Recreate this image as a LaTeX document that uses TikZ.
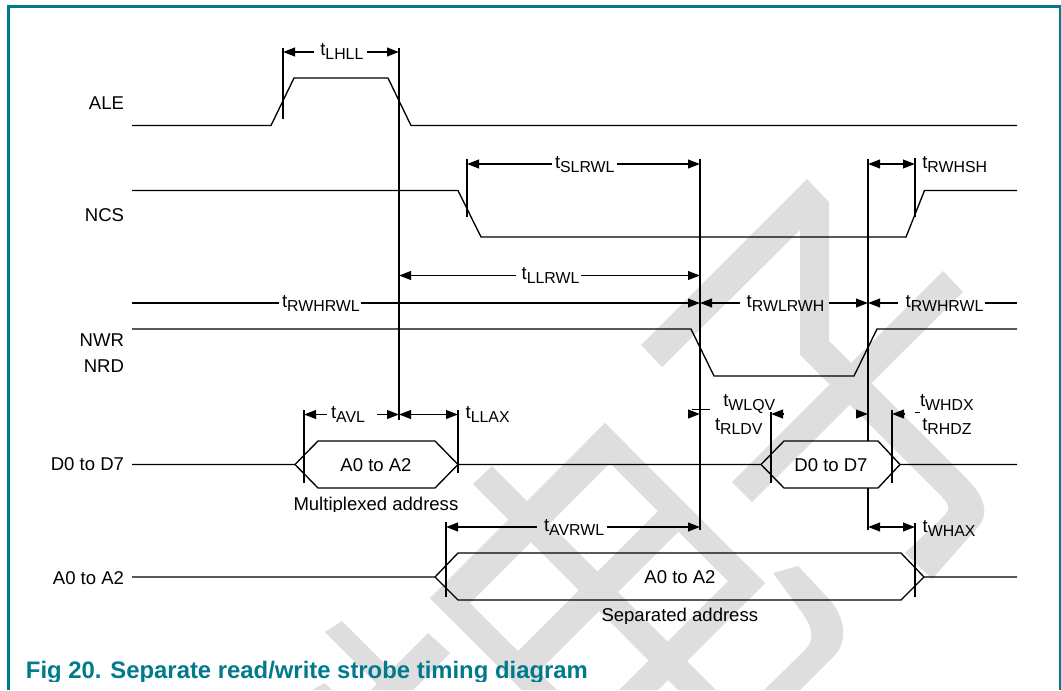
\documentclass[tikz,border=0pt]{standalone}
\usepackage{fontspec}
\setmainfont{Liberation Sans}
\usetikzlibrary{arrows.meta}
\definecolor{nxpteal}{HTML}{007A8C}
\definecolor{wmgray}{HTML}{DEDEDE}
\newcommand{\tsub}[1]{t\raisebox{-3pt}{\fontsize{11.9}{12}\selectfont #1}}
\tikzset{
  wm/.style={fill=wmgray,draw=none},
  sig/.style={line width=1pt,black,line join=miter},
  vline/.style={line width=1.3pt,black},
  dimline/.style={line width=1.45pt,black},
  thinmark/.style={line width=0.5pt,black},
  tipl/.style={{Triangle[length=9pt,width=6.5pt]}-},
  tipr/.style={-{Triangle[length=9pt,width=6.5pt]}},
  tipb/.style={{Triangle[length=9pt,width=6.5pt]}-{Triangle[length=9pt,width=6.5pt]}},
  lab/.style={inner sep=0pt,outer sep=0pt,anchor=base west,font=\fontsize{13.9}{15}\selectfont},
  siglab/.style={inner sep=0pt,outer sep=0pt,anchor=base east,font=\fontsize{13.9}{15}\selectfont},
  midlab/.style={inner sep=0pt,outer sep=0pt,anchor=base,font=\fontsize{13.9}{15}\selectfont},
  figcap/.style={inner sep=0pt,outer sep=0pt,anchor=base west,text=nxpteal,font=\fontsize{17.9}{20}\selectfont\bfseries}
}
\begin{document}
\begin{tikzpicture}[x=0.75pt,y=-0.75pt]
\useasboundingbox (0,0) rectangle (1061,690);
\fill[white] (0,0) rectangle (1061,690);
% watermark
\begin{scope}
\clip (0,0) rectangle (1061,690);
\fill[wm] (807,179) -- (829,202) -- (829,341) -- (967,479) .. controls (985,497) and (990,515) .. (977,528) -- (932,579) -- (905,553) -- (943,517) .. controls (950,510) and (950,505) .. (943,498) -- (800,355) -- (800,230) -- (662,367) -- (641,345) -- cycle;
\fill[wm] (943,271) -- (963,292) -- (752,502) -- (732,482) -- cycle;
\fill[wm] (605,423) -- (627.5,445.5) -- (452.5,620.5) -- (430,598) -- cycle;
\fill[wm] (605,423) -- (765,583) -- (747.5,600.5) -- (587.5,440.5) -- cycle;
\fill[wm] (765,583) -- (745.5,563.5) -- (619,690) -- (658,690) -- cycle;
\fill[wm] (658,511) -- (678.5,531.5) -- (530,680) -- (509.5,659.5) -- cycle;
\fill[wm] (430,598) -- (470,603) -- (557,690) -- (522,690) -- cycle;
\fill[wm] (473,484) -- (492,466) -- (716,690) -- (678,690) -- cycle;
\fill[wm] (325,632) -- (342,621) -- (411,690) -- (383,690) -- cycle;
\fill[wm] (428,633) -- (450,653) -- (413,690) -- (371,690) -- cycle;
\fill[wm] (312,690) -- (325,683) -- (332,690) -- cycle;
\fill[wm] (773,573) -- (798,566) -- (830,600) .. controls (845,618) and (848,640) .. (835,655) -- (800,690) -- (764,690) -- (805,650) .. controls (814,640) and (814,630) .. (803,614) -- cycle;
\end{scope}
% frame
\draw[nxpteal,line width=2.25pt] (8.5,690) -- (8.5,6.5) -- (1060,6.5) -- (1060,690);
% signals
\draw[sig] (132,125.5) -- (271,125.5) -- (294,78) -- (388,78) -- (411,125.5) -- (1017,125.5);
\draw[sig] (132,190.5) -- (458,190.5) -- (481,237) -- (906,237) -- (924.5,190.5) -- (1017,190.5);
\draw[sig] (132,329) -- (691,329) -- (714,376) -- (854,376) -- (877,329) -- (1017,329);
\draw[sig] (132,464.5) -- (295,464.5) -- (318,441) -- (435,441) -- (458,464.5) -- (761,464.5) -- (784,441) -- (878,441) -- (900,464.5) -- (1017,464.5);
\draw[sig] (295,464.5) -- (318,488) -- (435,488) -- (458,464.5);
\draw[sig] (761,464.5) -- (784,488) -- (878,488) -- (900,464.5);
\draw[sig] (132,577) -- (435,577) -- (458,553) -- (901,553) -- (924,577) -- (1017,577);
\draw[sig] (435,577) -- (458,600) -- (901,600) -- (924,577);
% vertical reference lines
\draw[vline] (283,48) -- (283,119);
\draw[vline] (399,48) -- (399,420);
\draw[vline] (467,159) -- (467,217);
\draw[vline] (700,159) -- (700,530);
\draw[vline] (868,159) -- (868,441);
\draw[vline] (868,488) -- (868,530);
\draw[vline] (915,158) -- (915,217);
\draw[vline] (304,410) -- (304,483);
\draw[vline] (458,410) -- (458,473);
\draw[vline] (446,522) -- (446,597);
\draw[vline] (771,412) -- (771,483);
\draw[vline] (892,410) -- (892,483);
\draw[vline] (915,523) -- (915,597);
% dimension arrows
\draw[dimline,tipl] (283,52) -- (314,52);
\draw[dimline,tipr] (367,52) -- (399,52);
\draw[dimline,tipl] (467,164) -- (552,164);
\draw[dimline,tipr] (617,164) -- (700,164);
\draw[dimline,tipb] (868,164) -- (915,164);
\draw[dimline,tipl] (399,275.5) -- (516,275.5);
\draw[dimline,tipr] (581,275.5) -- (700,275.5);
\draw[dimline] (132,303) -- (279,303);
\draw[dimline,tipr] (361,303) -- (700,303);
\draw[dimline,tipl] (700,303) -- (740,303);
\draw[dimline,tipr] (829,303) -- (868,303);
\draw[dimline,tipl] (868,303) -- (898,303);
\draw[dimline] (985,303) -- (1017,303);
\draw[dimline,tipl] (304,414.5) -- (327,414.5);
\draw[dimline,tipr] (377,414.5) -- (399,414.5);
\draw[dimline,tipb] (399,414.5) -- (458,414.5);
\draw[dimline,tipl] (446,527) -- (537,527);
\draw[dimline,tipr] (607,527) -- (700,527);
\draw[dimline,tipb] (868,527) -- (915,527);
\draw[dimline,tipr] (688,414) -- (700,414);
\draw[dimline,tipl] (771,414) -- (783,414);
\draw[dimline,tipr] (856,414) -- (868,414);
\draw[dimline,tipl] (892,414) -- (904,414);
\draw[thinmark] (692,409) -- (710,409);
\draw[thinmark] (915,412.5) -- (920,412.5);
% signal labels
\node[siglab] (ale) at (124,109) {ALE};
\node[siglab] (ncs) at (124,221.5) {NCS};
\node[siglab] (nwr) at (124,346) {NWR};
\node[siglab] (nrd) at (124,372) {NRD};
\node[siglab] (dd) at (124,470.5) {D0 to D7};
\node[siglab] (aa) at (124,584) {A0 to A2};
% bus labels
\node[midlab] (hexa) at (376,471.7) {A0 to A2};
\node[midlab] (hexd) at (831,471.7) {D0 to D7};
\node[midlab] (hexs) at (680,583.5) {A0 to A2};
\begin{scope}
\clip (0,0) rectangle (1061,511);
\node[lab] (muxaddr) at (293.5,510) {Multiplexed address};
\end{scope}
\begin{scope}
\clip (0,0) rectangle (1061,623);
\node[lab] (sepaddr) at (601.5,621.7) {Separated address};
\end{scope}
% timing labels
\node[lab] (tlhll) at (320.3,55.5) {\tsub{LHLL}};
\node[lab] (tslrwl) at (555,168) {\tsub{SLRWL}};
\node[lab] (trwhsh) at (922.3,168) {\tsub{RWHSH}};
\node[lab] (tllrwl) at (521.7,279.7) {\tsub{LLRWL}};
\node[lab] (trwhrwla) at (282,307) {\tsub{RWHRWL}};
\node[lab] (trwlrwh) at (746.7,307) {\tsub{RWLRWH}};
\node[lab] (trwhrwlb) at (905.7,307) {\tsub{RWHRWL}};
\node[lab] (tavl) at (331,418.7) {\tsub{AVL}};
\node[lab] (tllax) at (465.7,418.7) {\tsub{LLAX}};
\node[lab] (tavrwl) at (544,531.3) {\tsub{AVRWL}};
\node[lab] (twhax) at (922.7,532) {\tsub{WHAX}};
\node[lab] (twlqv) at (723.3,406) {\tsub{WLQV}};
\node[lab] (trldv) at (715,430) {\tsub{RLDV}};
\node[lab] (twhdx) at (920,406) {\tsub{WHDX}};
\node[lab] (trhdz) at (922.3,430) {\tsub{RHDZ}};
% caption
\begin{scope}
\clip (0,0) rectangle (1061,681);
\node[figcap] (caption) at (26,678) {Fig 20. Separate read/write strobe timing diagram};
\end{scope}
\end{tikzpicture}
\end{document}
